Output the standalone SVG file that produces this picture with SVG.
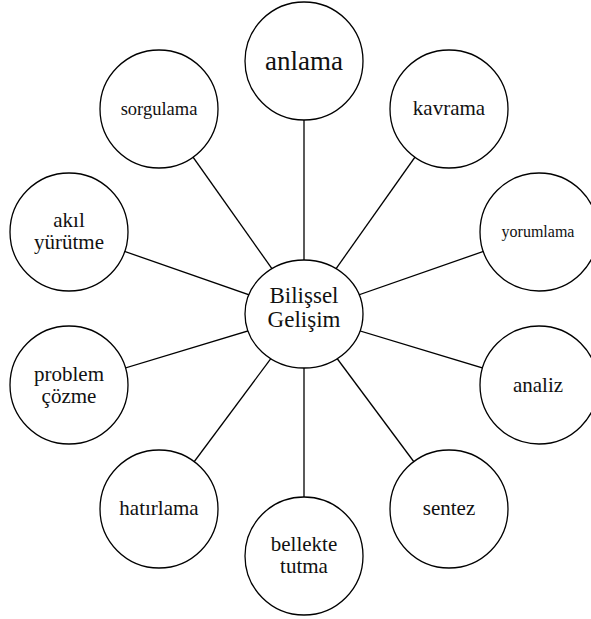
<svg xmlns="http://www.w3.org/2000/svg" width="591" height="619" viewBox="0 0 591 619">
<style>
.edge{stroke:#000;stroke-width:1.3;fill:none}
.node{fill:#fff;stroke:#000;stroke-width:1.3}
.f21{font-size:21px}
</style>
<rect width="591" height="619" fill="#fff"/>
<g id="connectors">
<line class="edge" x1="304" y1="314" x2="304" y2="61"/>
<line class="edge" x1="304" y1="314" x2="159" y2="109"/>
<line class="edge" x1="304" y1="314" x2="449" y2="109"/>
<line class="edge" x1="304" y1="314" x2="69" y2="232"/>
<line class="edge" x1="304" y1="314" x2="539" y2="232"/>
<line class="edge" x1="304" y1="314" x2="69" y2="385"/>
<line class="edge" x1="304" y1="314" x2="539" y2="385"/>
<line class="edge" x1="304" y1="314" x2="159" y2="509"/>
<line class="edge" x1="304" y1="314" x2="449" y2="509"/>
<line class="edge" x1="304" y1="314" x2="304" y2="556"/>
</g>
<g font-family="Liberation Serif, Times New Roman, DejaVu Serif, serif" fill="#111" text-anchor="middle">
<g id="anlama"><circle class="node" cx="304" cy="61" r="59"/><text x="304" y="70" font-size="27">anlama</text></g>
<g id="sorgulama"><circle class="node" cx="159" cy="109" r="59"/><text x="159" y="115" font-size="18.5">sorgulama</text></g>
<g id="kavrama"><circle class="node" cx="449" cy="109" r="59"/><text class="f21" x="449" y="115">kavrama</text></g>
<g id="akil-yurutme"><circle class="node" cx="69" cy="232" r="59"/><text class="f21" x="69" y="227">akıl</text><text class="f21" x="69" y="249">yürütme</text></g>
<g id="yorumlama"><circle class="node" cx="539" cy="232" r="59"/><text x="538" y="237" font-size="16">yorumlama</text></g>
<g id="problem-cozme"><circle class="node" cx="69" cy="385" r="59"/><text class="f21" x="69" y="381">problem</text><text class="f21" x="69" y="403">çözme</text></g>
<g id="analiz"><circle class="node" cx="539" cy="385" r="59"/><text class="f21" x="538" y="392">analiz</text></g>
<g id="hatirlama"><circle class="node" cx="159" cy="509" r="59"/><text class="f21" x="159" y="515">hatırlama</text></g>
<g id="sentez"><circle class="node" cx="449" cy="509" r="59"/><text class="f21" x="449" y="515">sentez</text></g>
<g id="bellekte-tutma"><circle class="node" cx="304" cy="556" r="59"/><text class="f21" x="304" y="551">bellekte</text><text class="f21" x="304" y="573">tutma</text></g>
<g id="bilissel-gelisim"><ellipse class="node" cx="304" cy="314" rx="59" ry="54"/><text x="304" y="303" font-size="23">Bilişsel</text><text x="304" y="327" font-size="23">Gelişim</text></g>
</g>
</svg>
